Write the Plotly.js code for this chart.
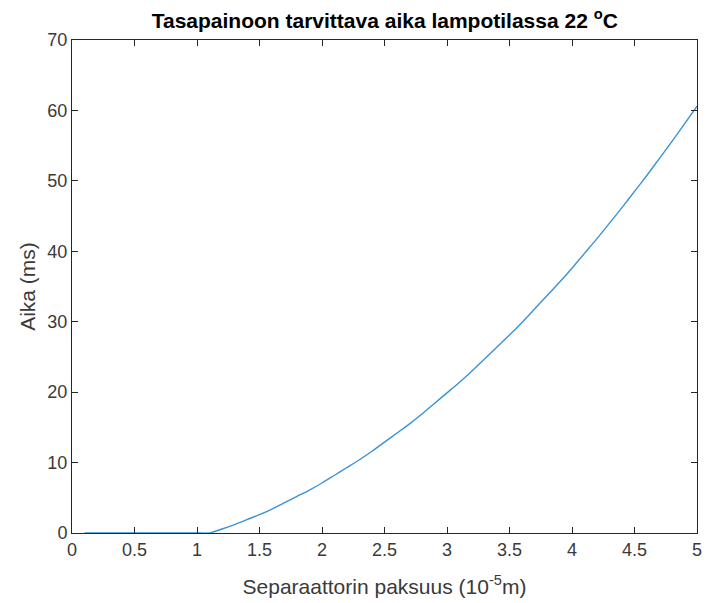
<!DOCTYPE html>
<html>
<head>
<meta charset="utf-8">
<script src="https://cdn.plot.ly/plotly-3.0.1.min.js"></script>
<style>html,body{margin:0;padding:0;background:#fff;}#chart{width:706px;height:603px;}</style>
</head>
<body>
<div id="chart"></div>
<script>
// Separator thickness (1e-5 m)
const thickness = [0.1,0.2,0.3,0.4,0.5,0.6,0.7,0.8,0.9,1.0,1.1,1.2,1.3,1.4,1.5,1.6,1.7,1.8,1.9,2.0,
  2.1,2.2,2.3,2.4,2.5,2.6,2.7,2.8,2.9,3.0,3.1,3.2,3.3,3.4,3.5,3.6,3.7,3.8,3.9,4.0,
  4.1,4.2,4.3,4.4,4.5,4.6,4.7,4.8,4.9,5.0];
// Time to equilibrium (ms)
const timeMs = [0,0,0,0,0,0,0,0,0,0,0,0.57,1.2,1.9,2.6,3.4,4.3,5.2,6.1,7.1,
  8.2,9.3,10.4,11.6,12.9,14.2,15.5,16.9,18.4,19.9,21.4,23.0,24.7,26.4,28.1,29.9,31.8,33.7,35.6,37.6,
  39.7,41.8,44.0,46.2,48.5,50.8,53.2,55.6,58.1,60.6];
const xTicks = [0,0.5,1,1.5,2,2.5,3,3.5,4,4.5,5];
const xTickText = ['0','0.5','1','1.5','2','2.5','3','3.5','4','4.5','5'];
const yTicks = [0,10,20,30,40,50,60,70];

const FONT = 'Liberation Sans, Arial, sans-serif';
const axisCommon = {
  showline: true, linecolor: '#262626', linewidth: 1, mirror: 'ticks',
  ticks: 'inside', ticklen: 6, tickcolor: '#262626', tickwidth: 1,
  showgrid: false, zeroline: false,
  tickfont: {family: FONT, size: 18, color: '#3a3a3a'}
};

Plotly.newPlot('chart', [{
  x: thickness, y: timeMs, type: 'scatter', mode: 'lines', line: {shape: 'spline', smoothing: 0.6,
  color: '#3A93D3', width: 1.4}, hoverinfo: 'none'
}], {
  width: 706, height: 603,
  margin: {l: 72, r: 9, t: 40, b: 70},
  paper_bgcolor: '#fff', plot_bgcolor: '#fff',
  showlegend: false,
  title: {text: 'Tasapainoon tarvittava aika lampotilassa 22 <sup>o</sup>C',
    font: {family: FONT, size: 21, color: '#000', weight: 'bold'},
    x: 0.545, xanchor: 'center', y: 0.966, yanchor: 'middle'},
  xaxis: Object.assign({}, axisCommon, {
    range: [0, 5], tickvals: xTicks, ticktext: xTickText,
    title: {text: 'Separaattorin paksuus (10<sup>-5</sup>m)', standoff: 20,
      font: {family: FONT, size: 21, color: '#3a3a3a'}}
  }),
  yaxis: Object.assign({}, axisCommon, {
    range: [0, 70], tickvals: yTicks,
    title: {text: 'Aika (ms)', standoff: 6,
      font: {family: FONT, size: 21, color: '#3a3a3a'}}
  })
}, {displayModeBar: false, staticPlot: true});
</script>
</body>
</html>
